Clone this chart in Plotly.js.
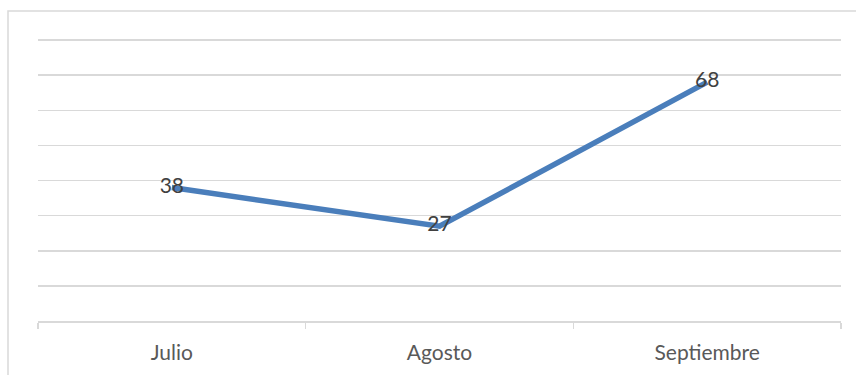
<!DOCTYPE html>
<html>
<head>
<meta charset="utf-8">
<script src="https://cdn.plot.ly/plotly-3.0.1.min.js"></script>
<style>html,body{margin:0;padding:0;background:#fff;}#chart{width:856px;height:375px;}</style>
</head>
<body>
<div id="chart"></div>
<script>
const months = ["Julio", "Agosto", "Septiembre"];
const values = [38, 27, 68];
const valueLabels = ["38", "27", "68"];

const trace = {
  x: months,
  y: values,
  text: valueLabels,
  type: "scatter",
  mode: "lines+text",
  textposition: "middle center",
  textfont: {family: "Lato, 'Open Sans', sans-serif", size: 21, color: "#404040"},
  line: {color: "#4A7EBB", width: 5.5},
  hoverinfo: "none",
  cliponaxis: false
};

const layout = {
  width: 856, height: 375,
  margin: {l: 38, r: 15, t: 39, b: 54},
  paper_bgcolor: "#ffffff",
  plot_bgcolor: "#ffffff",
  showlegend: false,
  xaxis: {
    type: "category",
    range: [-0.5, 2.5],
    showgrid: false,
    zeroline: false,
    showline: true,
    linecolor: "#d9d9d9",
    linewidth: 1.5,
    ticks: "outside",
    tickson: "boundaries",
    ticklen: 6,
    tickcolor: "#d9d9d9",
    tickwidth: 1.5,
    ticklabelstandoff: 12,
    tickfont: {family: "Lato, 'Open Sans', sans-serif", size: 21, color: "#595959"},
    automargin: false
  },
  yaxis: {
    range: [0, 80.3],
    tick0: 0,
    dtick: 10,
    showticklabels: false,
    showgrid: true,
    gridcolor: "#d9d9d9",
    gridwidth: 1.5,
    zeroline: false,
    showline: false,
    ticks: ""
  },
  shapes: [{
    type: "rect",
    xref: "paper", yref: "paper",
    x0: -30/803, x1: 1.1,
    y0: -0.3, y1: 310/282,
    line: {color: "#d9d9d9", width: 1.5},
    fillcolor: "rgba(0,0,0,0)",
    layer: "below"
  }]
};

Plotly.newPlot("chart", [trace], layout, {displayModeBar: false, staticPlot: true});
</script>
</body>
</html>
